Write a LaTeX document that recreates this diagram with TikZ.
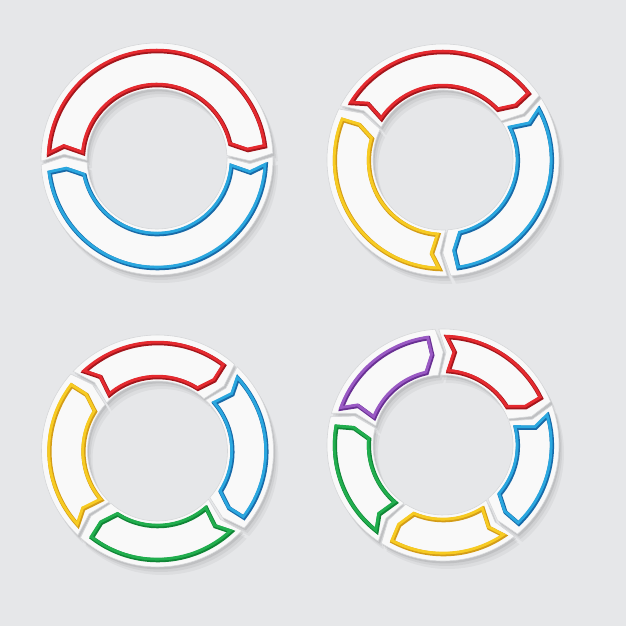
\documentclass[tikz,border=0pt]{standalone}
\definecolor{bg}{HTML}{E6E7E9}
\definecolor{paper}{HTML}{F9F9F9}
\definecolor{paperedge}{HTML}{D6D7D9}
\definecolor{cred}{HTML}{E52A2F}
\definecolor{dred}{HTML}{A3161C}
\definecolor{cblue}{HTML}{2AA7DF}
\definecolor{dblue}{HTML}{186AA8}
\definecolor{cyellow}{HTML}{F7CB22}
\definecolor{dyellow}{HTML}{D39C18}
\definecolor{cgreen}{HTML}{21AE4E}
\definecolor{dgreen}{HTML}{108536}
\definecolor{cpurple}{HTML}{9A5AC4}
\definecolor{dpurple}{HTML}{693093}
% geometry (1pt = 1px)
\def\RRo{116}\def\RRi{70}\def\RRm{93}
\def\rro{108.5}\def\rri{74.5}\def\rrn{94}\def\rrt{91}
\def\hg{0.9}\def\dw{4}\def\ci{5}
\newcommand{\setangles}[2]{%
  \pgfmathsetmacro{\wa}{#1-\hg}%
  \pgfmathsetmacro{\wb}{#2+\hg}%
  \pgfmathsetmacro{\wat}{\wa-\dw}%
  \pgfmathsetmacro{\wbt}{\wb-\dw}%
  \pgfmathsetmacro{\ka}{#1-\ci}%
  \pgfmathsetmacro{\kb}{#2+\ci}%
  \pgfmathsetmacro{\kan}{\ka-5}%
  \pgfmathsetmacro{\kai}{\ka-2}%
  \pgfmathsetmacro{\kbt}{\kb-1}%
  \pgfmathsetmacro{\kbi}{\kb+5}}
\newcommand{\wshape}[1]{\path[#1] (\wa:\RRo) arc[start angle=\wa, end angle=\wb, radius=\RRo] -- (\wbt:\RRm) -- (\wb:\RRi) arc[start angle=\wb, end angle=\wa, radius=\RRi] -- (\wat:\RRm) -- cycle;}
\newcommand{\kshape}[1]{\path[#1] (\ka:\rro) arc[start angle=\ka, end angle=\kb, radius=\rro] -- (\kbt:\rrt) -- (\kbi:\rri) arc[start angle=\kbi, end angle=\kai, radius=\rri] -- (\kan:\rrn) -- cycle;}
\tikzset{
  shadowfill/.style={fill=black, fill opacity=#1},
  paperband/.style={fill=paper, draw=paperedge, line width=0.6pt},
  darkline/.style={draw=#1, line width=4.2pt, line join=miter, shift={(0.45,-0.7)}},
  brightline/.style={draw=#1, line width=2.8pt, line join=miter, shift={(-0.3,0.35)}}
}
\newcommand{\drawring}[1]{%
  \foreach \px/\py/\ga/\gb/\cA/\cB in {#1}{%
    \setangles{\ga}{\gb}%
    \begin{scope}[shift={(\px,\py)}]
      \wshape{shadowfill=0.04, shift={(5,-8)}}
      \wshape{shadowfill=0.05, shift={(3.2,-5)}}
      \wshape{shadowfill=0.08, shift={(1.6,-2.4)}}
    \end{scope}}%
  \foreach \px/\py/\ga/\gb/\cA/\cB in {#1}{%
    \setangles{\ga}{\gb}%
    \begin{scope}[shift={(\px,\py)}]
      \wshape{paperband}
      \kshape{darkline=\cB}
      \kshape{brightline=\cA}
    \end{scope}}}
\begin{document}
\begin{tikzpicture}[x=1pt,y=1pt]
\fill[bg] (0,0) rectangle (626,626);
\useasboundingbox (0,0) rectangle (626,626);
% ring 1 (top left): two arrows
\drawring{157/467/182/2/cred/dred, 157/467/2/-178/cblue/dblue}
% ring 2 (top right): three arrows
\drawring{443/466/153/33/cred/dred, 443/466/33/-87/cblue/dblue, 443/466/-87/-207/cyellow/dyellow}
% ring 3 (bottom left): four arrows
\drawring{157.5/175/137.5/47.5/cred/dred, 157.5/175/47.5/-42.5/cblue/dblue, 157.5/175/-42.5/-132.5/cgreen/dgreen, 157.5/175/-132.5/-222.5/cyellow/dyellow}
% ring 4 (bottom right): five arrows
\drawring{443/181/93/21/cred/dred, 443/181/21/-51/cblue/dblue, 443/181/-51/-123/cyellow/dyellow, 443/181/-123/-195/cgreen/dgreen, 443/181/-195/-267/cpurple/dpurple}
\end{tikzpicture}
\end{document}
